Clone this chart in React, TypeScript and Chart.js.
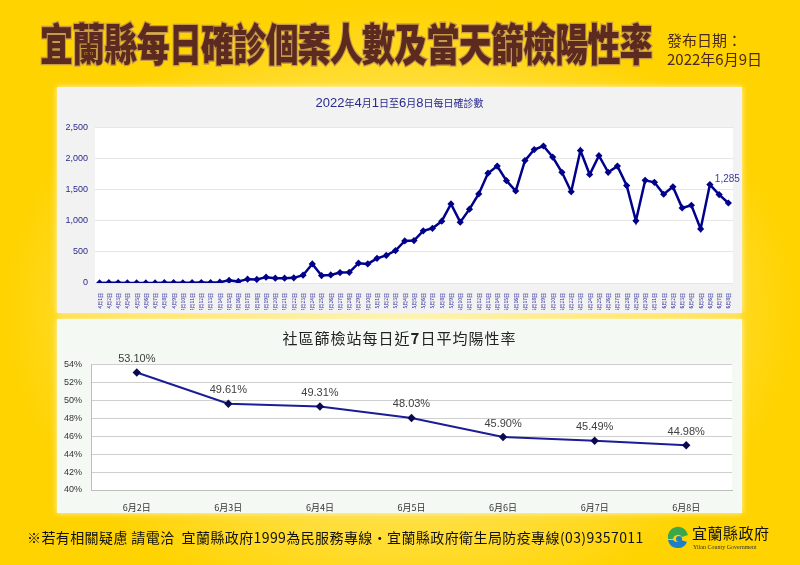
import React, { useEffect, useRef } from "react";
import { Chart, registerables } from "chart.js";

Chart.register(...registerables);

const aprilDays = Array.from({ length: 30 }, (_, i) => `4月${i + 1}日`);
const mayDays = Array.from({ length: 31 }, (_, i) => `5月${i + 1}日`);
const juneDays = Array.from({ length: 8 }, (_, i) => `6月${i + 1}日`);
const dailyLabels = [...aprilDays, ...mayDays, ...juneDays];

const aprilCases = [2, 5, 3, 1, 2, 1, 1, 5, 6, 4, 6, 8, 6, 14, 42, 25, 62, 57, 94, 78, 78, 83, 125, 307, 120, 130, 167, 172, 318, 307];
const mayCases = [396, 443, 521, 676, 682, 838, 879, 994, 1270, 978, 1186, 1431, 1764, 1878, 1644, 1478, 1967, 2144, 2201, 2024, 1779, 1467, 2128, 1743, 2045, 1779, 1878, 1566, 999, 1649, 1618];
const juneCases = [1426, 1545, 1207, 1249, 869, 1582, 1420, 1285];
const dailyCases = [...aprilCases, ...mayCases, ...juneCases];

const caseTicks = [0, 500, 1000, 1500, 2000, 2500];

const rateLabels = ["6月2日", "6月3日", "6月4日", "6月5日", "6月6日", "6月7日", "6月8日"];
const rateValues = [53.1, 49.61, 49.31, 48.03, 45.9, 45.49, 44.98];

const whiteArea = {
  id: "whiteArea",
  beforeDraw(chart: any) {
    const { ctx, chartArea } = chart;
    ctx.save();
    ctx.fillStyle = "#ffffff";
    ctx.fillRect(chartArea.left, chartArea.top, chartArea.right - chartArea.left, chartArea.bottom - chartArea.top);
    ctx.restore();
  },
};

function CasesChart() {
  const ref = useRef<HTMLCanvasElement>(null);
  useEffect(() => {
    const lastLabel = {
      id: "lastLabel",
      afterDatasetsDraw(chart: any) {
        const meta = chart.getDatasetMeta(0);
        const p = meta.data[meta.data.length - 1];
        const v = dailyCases[dailyCases.length - 1];
        const { ctx } = chart;
        ctx.save();
        ctx.font = "10px Arial, 'Liberation Sans'";
        ctx.fillStyle = "#3b3b9c";
        ctx.textAlign = "center";
        ctx.textBaseline = "bottom";
        ctx.fillText(v.toLocaleString("en-US"), p.x - 1, p.y - 19);
        ctx.restore();
      },
    };
    const chart = new Chart(ref.current!, {
      type: "line",
      data: {
        labels: dailyLabels,
        datasets: [
          {
            data: dailyCases,
            borderColor: "#00008b",
            backgroundColor: "#00008b",
            borderWidth: 2.5,
            pointStyle: "rectRot",
            pointRadius: 3.6,
            pointBorderWidth: 0,
            tension: 0,
          },
        ],
      },
      options: {
        animation: false,
        responsive: false,
        maintainAspectRatio: false,
        layout: { padding: { top: 8, right: 9, left: 0, bottom: 0 } },
        plugins: { legend: { display: false }, tooltip: { enabled: false }, title: { display: false } },
        scales: {
          x: {
            offset: true,
            grid: { display: false },
            border: { display: false },
            afterFit: (s: any) => {
              s.height = 27;
            },
            ticks: {
              autoSkip: false,
              minRotation: 90,
              maxRotation: 90,
              padding: 2,
              color: "#2a2a9a",
              font: { size: 5, family: "'Noto Sans CJK TC', sans-serif" },
            },
          },
          y: {
            min: 0,
            max: 2500,
            afterFit: (s: any) => {
              s.width = 38;
            },
            afterBuildTicks: (s: any) => {
              s.ticks = caseTicks.map((v) => ({ value: v }));
            },
            grid: { color: "#e6e6e6", drawTicks: false, lineWidth: 1 },
            border: { display: false },
            ticks: {
              padding: 7,
              color: "#2a2a8a",
              font: { size: 9, family: "Arial, 'Liberation Sans'" },
              callback: (v: any) => Number(v).toLocaleString("en-US"),
            },
          },
        },
      },
      plugins: [whiteArea, lastLabel],
    });
    return () => chart.destroy();
  }, []);
  return <canvas ref={ref} width={685} height={195} style={{ position: "absolute", left: 57, top: 115, width: 685, height: 195 }} />;
}

function RateChart() {
  const ref = useRef<HTMLCanvasElement>(null);
  useEffect(() => {
    const labels = {
      id: "valLabels",
      afterDatasetsDraw(chart: any) {
        const meta = chart.getDatasetMeta(0);
        const { ctx } = chart;
        ctx.save();
        ctx.font = "11px Arial, 'Liberation Sans'";
        ctx.fillStyle = "#404040";
        ctx.textAlign = "center";
        ctx.textBaseline = "bottom";
        meta.data.forEach((p: any, i: number) => {
          ctx.fillText(rateValues[i].toFixed(2) + "%", p.x, p.y - 8);
        });
        ctx.restore();
      },
    };
    const chart = new Chart(ref.current!, {
      type: "line",
      data: {
        labels: rateLabels,
        datasets: [
          {
            data: rateValues,
            borderColor: "#1c1c96",
            backgroundColor: "#0a0a50",
            borderWidth: 2,
            pointStyle: "rectRot",
            pointRadius: 4.2,
            pointBorderWidth: 0,
            tension: 0,
          },
        ],
      },
      options: {
        animation: false,
        responsive: false,
        maintainAspectRatio: false,
        layout: { padding: { top: 8, right: 10, left: 0, bottom: 0 } },
        plugins: { legend: { display: false }, tooltip: { enabled: false }, title: { display: false } },
        scales: {
          x: {
            offset: true,
            grid: { display: false },
            border: { display: true, color: "#bdbdbd" },
            afterFit: (s: any) => {
              s.height = 22;
            },
            ticks: {
              padding: 4,
              color: "#333333",
              font: { size: 9, family: "'Noto Sans CJK TC', sans-serif" },
            },
          },
          y: {
            min: 40,
            max: 54,
            afterFit: (s: any) => {
              s.width = 34;
            },
            grid: { color: "#cfcfcf", drawTicks: false },
            border: { display: true, color: "#bdbdbd" },
            ticks: {
              stepSize: 2,
              padding: 9,
              color: "#333333",
              font: { size: 9, family: "Arial, 'Liberation Sans'" },
              callback: (v: any) => v + "%",
            },
          },
        },
      },
      plugins: [whiteArea, labels],
    });
    return () => chart.destroy();
  }, []);
  return <canvas ref={ref} width={685} height={162} style={{ position: "absolute", left: 57, top: 350, width: 685, height: 162 }} />;
}

export default function App() {
  return (
    <div
      style={{
        position: "fixed",
        left: 0,
        top: 0,
        width: 800,
        height: 565,
        overflow: "hidden",
        background: "radial-gradient(ellipse at 50% 55%, #fff2a0 0%, #ffe14a 45%, #ffd300 70%)",
        fontFamily: "'Noto Sans CJK TC', sans-serif",
      }}
    >
      <div
        style={{
          position: "absolute",
          left: 38,
          top: 20,
          width: 616,
          textAlign: "center",
          fontSize: 33,
          fontWeight: 900,
          color: "#5c2a1f",
          lineHeight: "44px",
          transform: "scaleY(1.35)",
          WebkitTextStroke: "2px #c79a4a",
          paintOrder: "stroke fill",
          whiteSpace: "nowrap",
          letterSpacing: -0.8,
        } as any}
      >
        宜蘭縣每日確診個案人數及當天篩檢陽性率
      </div>
      <div style={{ position: "absolute", left: 667, top: 30, fontSize: 15, color: "#4a2a1c", lineHeight: "19px", whiteSpace: "nowrap" }}>
        <div>發布日期：</div>
        <div>2022年6月9日</div>
      </div>

      <div style={{ position: "absolute", left: 57, top: 87, width: 685, height: 226, background: "#f2f2f2", boxShadow: "0 0 6px rgba(255,250,220,0.9)" }} />
      <div style={{ position: "absolute", left: 57, top: 319, width: 685, height: 194, background: "#f4f9f4", boxShadow: "0 0 6px rgba(255,250,220,0.9)" }} />

      <div style={{ position: "absolute", left: 57, top: 91, width: 685, textAlign: "center", color: "#2a2a8c", whiteSpace: "nowrap", lineHeight: "18px" }}>
        <span style={{ fontSize: 13, fontFamily: "Arial, 'Liberation Sans'" }}>2022</span>
        <span style={{ fontSize: 10 }}>年</span>
        <span style={{ fontSize: 13, fontFamily: "Arial" }}>4</span>
        <span style={{ fontSize: 10 }}>月</span>
        <span style={{ fontSize: 13, fontFamily: "Arial" }}>1</span>
        <span style={{ fontSize: 10 }}>日至</span>
        <span style={{ fontSize: 13, fontFamily: "Arial" }}>6</span>
        <span style={{ fontSize: 10 }}>月</span>
        <span style={{ fontSize: 13, fontFamily: "Arial" }}>8</span>
        <span style={{ fontSize: 10 }}>日每日確診數</span>
      </div>
      <CasesChart />

      <div style={{ position: "absolute", left: 57, top: 327, width: 685, textAlign: "center", color: "#222", fontSize: 15, whiteSpace: "nowrap", lineHeight: "22px", letterSpacing: 1 }}>
        社區篩檢站每日近<b>7</b>日平均陽性率
      </div>
      <RateChart />

      <div style={{ position: "absolute", left: 27, top: 526, fontSize: 14, color: "#111", whiteSpace: "nowrap", lineHeight: "22px", letterSpacing: 0.4 }}>
        ※若有相關疑慮 請電洽&nbsp;&nbsp;宜蘭縣政府1999為民服務專線・宜蘭縣政府衛生局防疫專線(03)9357011
      </div>
      <svg style={{ position: "absolute", left: 665, top: 525 }} width={26} height={26} viewBox="0 0 26 26">
        <path d="M3 14 A10 10 0 0 1 23 10 L17 12 A5 5 0 0 0 8 14 Z" fill="#3aa84a" />
        <path d="M3 15 A10 10 0 0 0 22 17 L16 15 A5 5 0 0 1 8 15 Z" fill="#1d7fc4" />
        <circle cx="14" cy="14" r="3" fill="#1d7fc4" />
      </svg>
      <div style={{ position: "absolute", left: 692, top: 523, fontSize: 15, color: "#111", whiteSpace: "nowrap", lineHeight: "20px", fontFamily: "'Noto Sans CJK TC'", letterSpacing: 0.5 }}>
        宜蘭縣政府
      </div>
      <div style={{ position: "absolute", left: 693, top: 543, fontSize: 6, color: "#333", whiteSpace: "nowrap", lineHeight: "8px", fontFamily: "'Liberation Serif', serif" }}>
        Yilan County Government
      </div>
    </div>
  );
}
